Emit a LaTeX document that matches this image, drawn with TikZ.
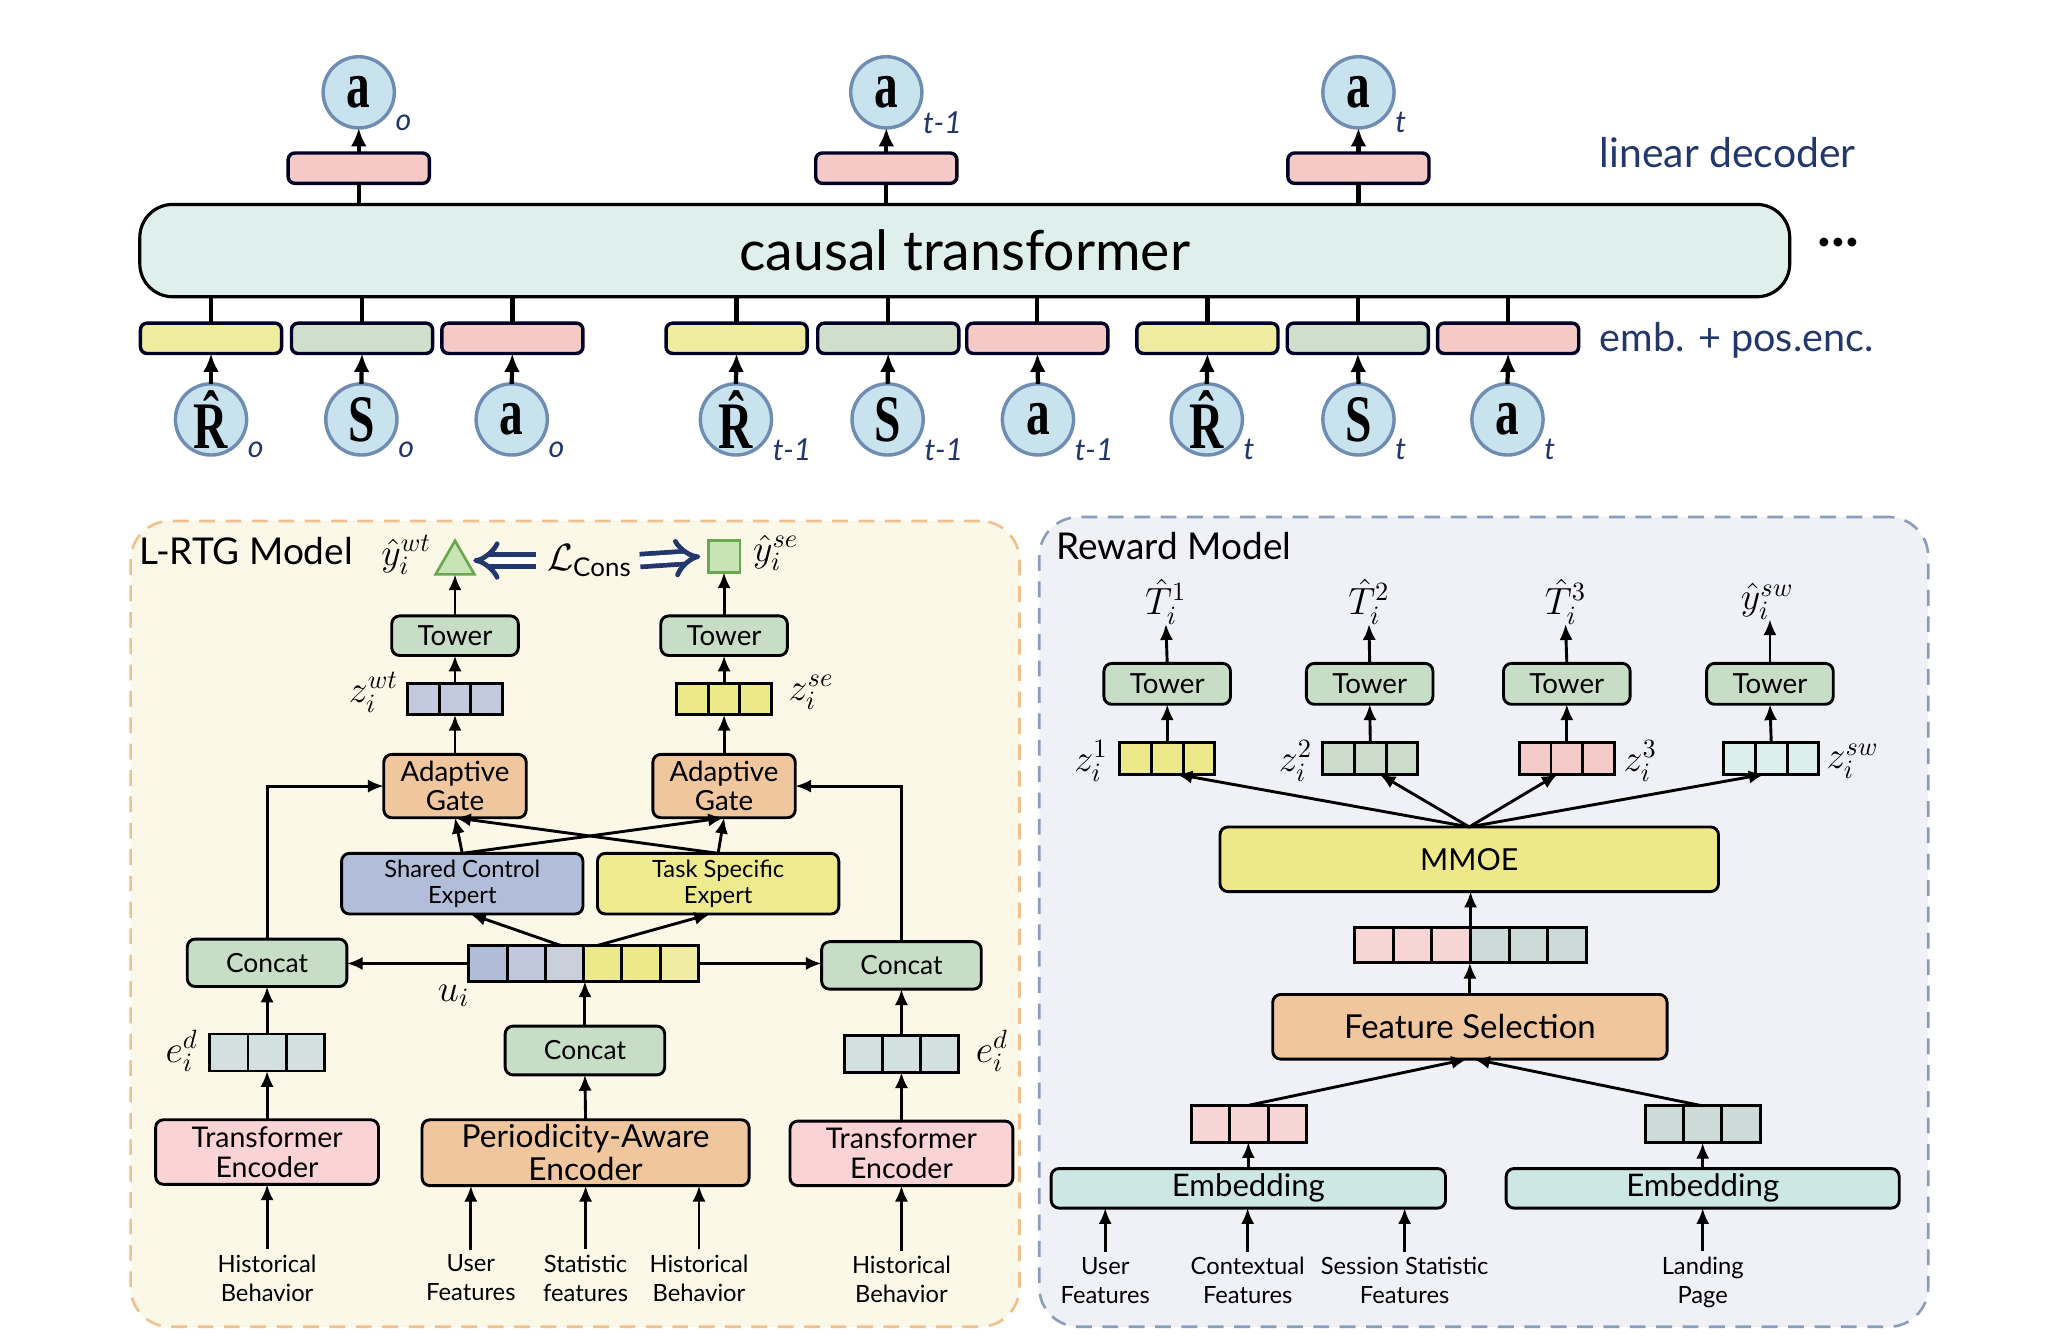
\documentclass[tikz,border=0pt]{standalone}
\usepackage{fontspec}
\usepackage{graphicx}
\setmainfont{Lato}
\newfontfamily\serifbf{Liberation Serif}
\usetikzlibrary{arrows.meta,shapes.geometric,calc}
\definecolor{navy}{HTML}{22376B}
\definecolor{cfill}{HTML}{C8E2EE}
\definecolor{cborder}{HTML}{6F8DB3}
\definecolor{tffill}{HTML}{DFF0EC}
\definecolor{yelE}{HTML}{F0EC9F}
\definecolor{grnE}{HTML}{CFDFCB}
\definecolor{pnkE}{HTML}{F4C9C6}
\definecolor{lfill}{HTML}{FCF8E8}
\definecolor{lborder}{HTML}{F2C08C}
\definecolor{rfill}{HTML}{F0F1F7}
\definecolor{rborder}{HTML}{8B9DBA}
\definecolor{towerC}{HTML}{C7DDC6}
\definecolor{gateC}{HTML}{EFC69D}
\definecolor{sharedC}{HTML}{B2BED9}
\definecolor{taskC}{HTML}{EEEA8E}
\definecolor{lavC}{HTML}{C3C9DE}
\definecolor{encP}{HTML}{FAD4D4}
\definecolor{egC}{HTML}{D2E0DF}
\definecolor{scA}{HTML}{B1BDD8}
\definecolor{scB}{HTML}{C1C7DD}
\definecolor{scC}{HTML}{C9D0DB}
\definecolor{tsA}{HTML}{ECE98A}
\definecolor{tsB}{HTML}{F0EDA3}
\definecolor{mmC}{HTML}{EDE98B}
\definecolor{embC}{HTML}{CDE7E4}
\definecolor{pkC}{HTML}{F7D5D5}
\definecolor{gtC}{HTML}{CCDBD8}
\definecolor{zgC}{HTML}{CBDCCB}
\definecolor{zpC}{HTML}{F5CBCA}
\definecolor{ztC}{HTML}{DDEFEC}
\definecolor{triFill}{HTML}{C8E3B4}
\definecolor{triDraw}{HTML}{6AA84F}

\newcommand\toklet[1]{{\serifbf\bfseries\fontsize{18}{18}\selectfont\scalebox{1}[1.4]{#1}}}
\newcommand\tok[5]{%
  \node[tokc] (#1) at (#2,#3) {\toklet{#4}};
  \node[tsub, anchor=west] (#1-s) at (#2+28,#3+23) {#5};}
\newcommand\vecn[7]{%
  \node[vecwhole, minimum width={#4*#5*0.5pt}, minimum height={#6*0.5pt}] (#1) at (#2,#3) {};
  \foreach \c [count=\i] in {#7} {
    \node[cellbox, fill=\c, minimum width={#5*0.5pt}, minimum height={#6*0.5pt}] (#1-\i) at ({#2-#4*#5/2+(\i-0.5)*#5},#3) {};
  }}

\begin{document}
\begin{tikzpicture}[x=0.5pt,y=-0.5pt,
  every node/.style={inner sep=0pt, outer sep=0pt},
  tokc/.style={circle, draw=cborder, fill=cfill, line width=1.3pt, minimum size=27pt},
  tsub/.style={text=navy, font=\itshape\fontsize{11.5}{11.5}\selectfont},
  decb/.style={rectangle, rounded corners=2.5pt, draw=black!85!blue, line width=1.3pt, minimum width=53.5pt, minimum height=11.5pt},
  tfbox/.style={rectangle, rounded corners=12.5pt, draw, line width=1.2pt, fill=tffill, minimum width=625.5pt, minimum height=35pt, font=\fontsize{21}{21}\selectfont},
  thk/.style={line width=1.6pt},
  tarr/.style={line width=1.6pt, -{Latex[length=7pt,width=6pt]}},
  arr/.style={line width=1.1pt, -{Latex[length=6pt,width=5pt]}},
  box/.style={rectangle, rounded corners=3pt, draw, line width=1.1pt, align=center},
  lab/.style={align=center, font=\fontsize{9}{11}\selectfont},
  mlab/.style={font=\fontsize{14}{14}\selectfont},
  vecwhole/.style={rectangle, draw=none},
  cellbox/.style={rectangle, draw, line width=1.1pt},
  panel/.style={rectangle, rounded corners=15pt, line width=1pt, dash pattern=on 6pt off 4pt},
  dbl/.style={navy, double=white, double distance=3pt, line width=1.8pt, -{Implies}}
]
\useasboundingbox (0,0) rectangle (1568,1019);

% ---------------- top: decision transformer ----------------
\node[tfbox] (tf) at (731.5,190) {causal transformer};

\tok{ao}{272}{70}{a}{o}
\tok{at1}{672}{70}{a}{t-1}
\tok{at}{1030}{70}{a}{t}

\node[decb, fill=pnkE] (d0) at (272,127.5) {};
\node[decb, fill=pnkE] (d1) at (672,127.5) {};
\node[decb, fill=pnkE] (d2) at (1030,127.5) {};
\foreach \d/\o in {d0/ao, d1/at1, d2/at} {
  \draw[thk] (\d.south) -- (\d.south |- tf.north);
  \draw[tarr] (\d.north) -- (\o.south);
}

\node[decb, fill=yelE] (e1) at (160,256.5) {};
\node[decb, fill=grnE] (e2) at (274.5,256.5) {};
\node[decb, fill=pnkE] (e3) at (388.5,256.5) {};
\node[decb, fill=yelE] (e4) at (558.5,256.5) {};
\node[decb, fill=grnE] (e5) at (673.5,256.5) {};
\node[decb, fill=pnkE] (e6) at (786.5,256.5) {};
\node[decb, fill=yelE] (e7) at (915.5,256.5) {};
\node[decb, fill=grnE] (e8) at (1029.5,256.5) {};
\node[decb, fill=pnkE] (e9) at (1143.5,256.5) {};

\tok{r0}{160}{318}{\^{R}}{o}
\tok{s0}{274}{318}{S}{o}
\tok{a0}{388}{318}{a}{o}
\tok{r1}{558}{318}{\^{R}}{t-1}
\tok{s1}{673}{318}{S}{t-1}
\tok{a1}{787}{318}{a}{t-1}
\tok{r2}{915}{318}{\^{R}}{t}
\tok{s2}{1030}{318}{S}{t}
\tok{a2}{1143}{318}{a}{t}

\foreach \e/\t in {e1/r0, e2/s0, e3/a0, e4/r1, e5/s1, e6/a1, e7/r2, e8/s2, e9/a2} {
  \draw[thk] (\e.north) -- (\e.north |- tf.south);
  \draw[tarr] (\t.north) -- (\e.south);
}

\node[anchor=west, text=navy, font=\fontsize{15.5}{15.5}\selectfont] (ld) at (1213,116) {linear decoder};
\node[anchor=west, text=navy, font=\fontsize{15}{15}\selectfont] (pe) at (1213,258) {emb. + pos.enc.};
\node[font=\bfseries\fontsize{22}{22}\selectfont] (dots) at (1394,184) {...};

% ---------------- bottom-left: L-RTG model ----------------
\node[panel, draw=lborder, fill=lfill, minimum width=337pt, minimum height=305.5pt] (lp) at (436,700.5) {};
\node[anchor=west, font=\fontsize{14}{14}\selectfont] (lt) at (106,418) {L-RTG Model};

\node[regular polygon, regular polygon sides=3, minimum size=17pt, draw=triDraw, fill=triFill, line width=1pt] (tri) at (345,427) {};
\node[rectangle, minimum size=12pt, draw=triDraw, fill=triFill, line width=1pt] (sq) at (549,422) {};
\node[mlab, anchor=east] (ywt) at (327,421) {$\hat{y}_i^{wt}$};
\node[mlab, anchor=west] (yse) at (571,419) {$\hat{y}_i^{se}$};
\node[mlab] (lc) at (447,425) {$\mathcal{L}_{\mathrm{Cons}}$};
\draw[dbl] ($(lc.west)+(-8,0)$) -- ($(tri.east)+(4,-2)$);
\draw[dbl] ($(lc.east)+(6,0)$) -- ($(sq.west)+(-6,0)$);

\node[box, fill=towerC, minimum width=48pt, minimum height=15pt, font=\fontsize{10.5}{10.5}\selectfont] (tl) at (345,482) {Tower};
\node[box, fill=towerC, minimum width=48pt, minimum height=15pt, font=\fontsize{10.5}{10.5}\selectfont] (tr) at (549,482) {Tower};
\draw[arr] (tl.north) -- (tri.south);
\draw[arr] (tr.north) -- (sq.south);

\vecn{zwt}{345}{530}{3}{24}{24}{lavC,lavC,lavC}
\vecn{zse}{549}{530}{3}{24}{24}{tsA,tsA,tsA}
\node[mlab, anchor=east] (zwtl) at (302,525) {$z_i^{wt}$};
\node[mlab, anchor=west] (zsel) at (598,525) {$z_i^{se}$};
\draw[arr] (zwt.north) -- (tl.south);
\draw[arr] (zse.north) -- (tr.south);

\node[box, fill=gateC, minimum width=54pt, minimum height=24pt, font=\fontsize{10.5}{11}\selectfont] (gl) at (345,596) {Adaptive\\Gate};
\node[box, fill=gateC, minimum width=54pt, minimum height=24pt, font=\fontsize{10.5}{11}\selectfont] (gr) at (549,596) {Adaptive\\Gate};
\draw[arr] (gl.north) -- (zwt.south);
\draw[arr] (gr.north) -- (zse.south);

\node[box, fill=sharedC, minimum width=91.5pt, minimum height=23pt, font=\fontsize{9}{10}\selectfont] (sce) at (350.5,670) {Shared Control\\Expert};
\node[box, fill=taskC, minimum width=91.5pt, minimum height=23pt, font=\fontsize{9}{10}\selectfont] (tse) at (544.5,670) {Task Specific\\Expert};
\draw[arr] (sce.north) -- (gl.south);
\draw[arr] (sce.north) -- (gr.south);
\draw[arr] (tse.north) -- (gr.south);
\draw[arr] (tse.north) -- (gl.south);

\node[box, fill=towerC, minimum width=60.5pt, minimum height=18pt, font=\fontsize{10}{10}\selectfont] (cl) at (202.5,730) {Concat};
\node[box, fill=towerC, minimum width=60.5pt, minimum height=18pt, font=\fontsize{10}{10}\selectfont] (cr) at (683.5,732) {Concat};
\draw[arr] (cl.north) |- (gl.west);
\draw[arr] (cr.north) |- (gr.east);

\vecn{ui}{442.5}{730.5}{6}{29}{27}{scA,scB,scC,tsA,tsA,tsB}
\node[mlab] (uil) at (344,755) {$u_i$};
\draw[arr] (ui.west) -- (ui.west -| cl.east);
\draw[arr] (ui.east) -- (ui.east -| cr.west);
\draw[arr] ($(ui.north)+(-17,0)$) -- ($(sce.south)+(6,0)$);
\draw[arr] ($(ui.north)+(10,0)$) -- ($(tse.south)+(-6,0)$);

\node[box, fill=towerC, minimum width=60.5pt, minimum height=18.5pt, font=\fontsize{10}{10}\selectfont] (cm) at (443.5,796.5) {Concat};
\draw[arr] (cm.north) -- (cm.north |- ui.south);

\vecn{edl}{202.5}{798}{3}{29}{28}{egC,egC,egC}
\vecn{edr}{683.5}{799}{3}{29}{28}{egC,egC,egC}
\node[mlab, anchor=east] (edll) at (150,797) {$e_i^d$};
\node[mlab, anchor=west] (edrl) at (740,797) {$e_i^d$};

\node[box, fill=encP, minimum width=84.5pt, minimum height=24.5pt, font=\fontsize{10.8}{11.5}\selectfont] (tel) at (202.5,873.5) {Transformer\\Encoder};
\node[box, fill=encP, minimum width=84.5pt, minimum height=24.5pt, font=\fontsize{10.8}{11.5}\selectfont] (ter) at (683.5,874.5) {Transformer\\Encoder};
\node[box, fill=gateC, minimum width=124pt, minimum height=25pt, font=\fontsize{12}{12.5}\selectfont] (pae) at (444,874) {Periodicity-Aware\\Encoder};
\draw[arr] (tel.north) -- (edl.south);
\draw[arr] (edl.north) -- (cl.south);
\draw[arr] (ter.north) -- (edr.south);
\draw[arr] (edr.north) -- (cr.south);
\draw[arr] (pae.north) -- (cm.south);

\node[lab] (hb1) at (202.5,969) {Historical\\Behavior};
\node[lab] (uf1) at (357,969) {User\\Features};
\node[lab] (sf1) at (444,969) {Statistic\\features};
\node[lab] (hb2) at (530,969) {Historical\\Behavior};
\node[lab] (hb3) at (683.5,970) {Historical\\Behavior};
\draw[arr, shorten <=2pt] (hb1.north) -- (tel.south);
\draw[arr, shorten <=2pt] (uf1.north) -- (uf1.north |- pae.south);
\draw[arr, shorten <=2pt] (sf1.north) -- (sf1.north |- pae.south);
\draw[arr, shorten <=2pt] (hb2.north) -- (hb2.north |- pae.south);
\draw[arr, shorten <=2pt] (hb3.north) -- (ter.south);

% ---------------- bottom-right: reward model ----------------
\node[panel, draw=rborder, fill=rfill, minimum width=337pt, minimum height=307pt] (rp) at (1125,699) {};
\node[anchor=west, font=\fontsize{14}{14}\selectfont] (rt) at (801,414) {Reward Model};

\foreach \n/\x in {rt1/885, rt2/1038.5, rt3/1188, rt4/1342} {
  \node[box, fill=towerC, minimum width=48pt, minimum height=15.5pt, font=\fontsize{10.5}{10.5}\selectfont] (\n) at (\x,518.5) {Tower};
}
\node[mlab] (T1) at (884,456) {$\hat{T}_i^1$};
\node[mlab] (T2) at (1038,456) {$\hat{T}_i^2$};
\node[mlab] (T3) at (1187,456) {$\hat{T}_i^3$};
\node[mlab] (ysw) at (1340,456) {$\hat{y}_i^{sw}$};
\draw[arr] (rt1.north) -- (T1.south);
\draw[arr] (rt2.north) -- (T2.south);
\draw[arr] (rt3.north) -- (T3.south);
\draw[arr] (rt4.north) -- (rt4.north |- ysw.south);

\vecn{z1}{885}{575}{3}{24}{24}{tsA,tsA,tsA}
\vecn{z2}{1039}{575}{3}{24}{24}{zgC,zgC,zgC}
\vecn{z3}{1188}{575}{3}{24}{24}{zpC,zpC,zpC}
\vecn{z4}{1343}{575}{3}{24}{24}{ztC,ztC,ztC}
\node[mlab, anchor=east] (z1l) at (840,577) {$z_i^1$};
\node[mlab, anchor=east] (z2l) at (995,577) {$z_i^2$};
\node[mlab, anchor=west] (z3l) at (1231,577) {$z_i^3$};
\node[mlab, anchor=west] (z4l) at (1385,577) {$z_i^{sw}$};
\foreach \z/\t in {z1/rt1, z2/rt2, z3/rt3, z4/rt4} {
  \draw[arr] (\z.north) -- (\t.south);
}

\node[box, fill=mmC, minimum width=189pt, minimum height=24.5pt, font=\fontsize{11.5}{11.5}\selectfont] (mm) at (1114,651.5) {MMOE};
\draw[arr] (mm.north) -- ($(z1.south)+(7,0)$);
\draw[arr] (mm.north) -- ($(z2.south)+(7,0)$);
\draw[arr] (mm.north) -- ($(z3.south)+(-7,0)$);
\draw[arr] (mm.north) -- ($(z4.south)+(-5,0)$);

\vecn{cv}{1115}{716.5}{6}{29.3}{27}{pkC,pkC,pkC,gtC,gtC,gtC}
\draw[arr] (cv.north) -- (cv.north |- mm.south);

\node[box, fill=gateC, minimum width=149.5pt, minimum height=24.5pt, font=\fontsize{12.5}{12.5}\selectfont] (fs) at (1114.5,778.5) {Feature Selection};
\draw[arr] (fs.north) -- (fs.north |- cv.south);

\vecn{vl}{947}{852}{3}{29}{28}{pkC,pkC,pkC}
\vecn{vr}{1291}{852.5}{3}{29}{28}{gtC,gtC,gtC}
\draw[arr] (vl.north) -- ($(fs.south)+(-2,0)$);
\draw[arr] (vr.north) -- ($(fs.south)+(3,0)$);

\node[box, fill=embC, minimum width=149.5pt, minimum height=15pt, font=\fontsize{11.8}{11.8}\selectfont] (eml) at (946.5,901) {Embedding};
\node[box, fill=embC, minimum width=149pt, minimum height=15pt, font=\fontsize{11.8}{11.8}\selectfont] (emr) at (1291,901) {Embedding};
\draw[arr] (eml.north) -- (eml.north |- vl.south);
\draw[arr] (emr.north) -- (vr.south);

\node[lab] (ruf) at (838,971) {User\\Features};
\node[lab] (rcf) at (946,971) {Contextual\\Features};
\node[lab] (rss) at (1065,971) {Session Statistic\\Features};
\node[lab] (rlp) at (1291,972) {Landing\\Page};
\draw[arr, shorten <=2pt] (ruf.north) -- (ruf.north |- eml.south);
\draw[arr, shorten <=2pt] (rcf.north) -- (rcf.north |- eml.south);
\draw[arr, shorten <=2pt] (rss.north) -- (rss.north |- eml.south);
\draw[arr, shorten <=2pt] (rlp.north) -- (emr.south);
\end{tikzpicture}
\end{document}
